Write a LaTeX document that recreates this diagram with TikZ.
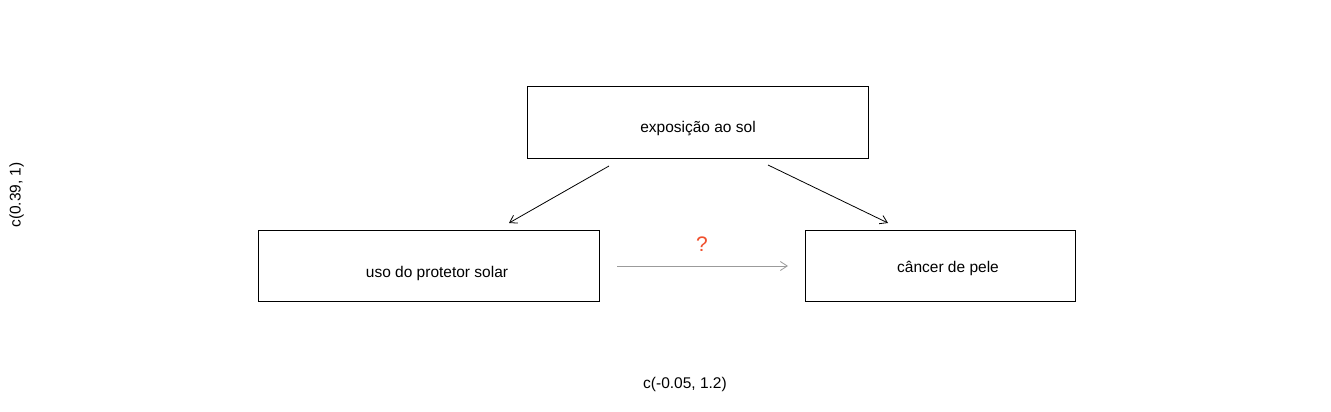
\documentclass[tikz,border=0pt]{standalone}
\usepackage{fontspec}
\setmainfont{Liberation Sans}
\usetikzlibrary{arrows.meta}
\definecolor{qred}{RGB}{240,80,45}
\definecolor{lgrey}{RGB}{155,155,155}
\begin{document}
\begin{tikzpicture}[x=1pt,y=-1pt,
  box/.style={draw=black,line width=1pt,minimum height=71pt,inner sep=0pt},
  lab/.style={anchor=base,inner sep=0pt,font=\fontsize{15.5}{18}\selectfont},
  arr/.style={line width=0.8pt,-{Straight Barb[length=7pt,width=9pt,line width=0.8pt]}}]
\path[use as bounding box,fill=white] (0,0) rectangle (1331,412);
% boxes
\node[box,minimum width=341pt] (top) at (697.5,122.5) {};
\node[box,minimum width=341pt] (left) at (428.5,265.5) {};
\node[box,minimum width=270pt] (right) at (940,265.5) {};
% texts
\node[lab] (ttop) at (698,132.5) {exposição ao sol};
\node[lab] (tleft) at (437,277) {uso do protetor solar};
\node[lab] (tright) at (948,272) {câncer de pele};
\node[lab,text=qred,font=\fontsize{21}{24}\selectfont] (q) at (702,251.5) {?};
\node[lab] (xlab) at (685,388) {c(-0.05, 1.2)};
\node[lab,rotate=90] (ylab) at (20.5,195) {c(0.39, 1)};
% arrow end points
\coordinate (a1s) at (609,166);
\coordinate (a1e) at (509,223);
\coordinate (a2s) at (768,165);
\coordinate (a2e) at (888,223);
\coordinate (a3s) at (617,266);
\coordinate (a3e) at (788,266);
\draw[arr] (a1s) -- (a1e);
\draw[arr] (a2s) -- (a2e);
\draw[arr,draw=lgrey] (a3s) -- (a3e);
\end{tikzpicture}
\end{document}
